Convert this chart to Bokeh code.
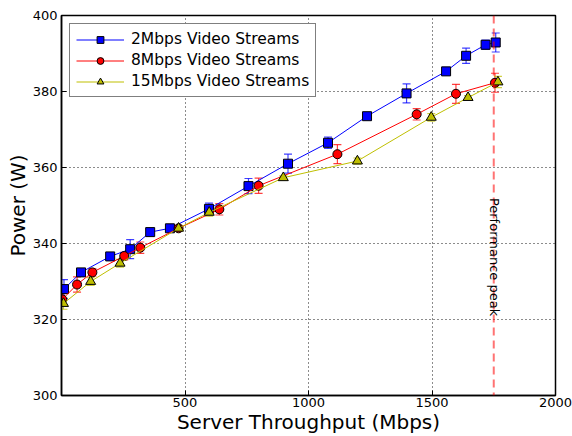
import math
from bokeh.plotting import figure
from bokeh.models import (ColumnDataSource, Whisker, Span, Label, Legend, LegendItem,
                          FixedTicker, Range1d)
from bokeh.embed import file_html
from bokeh.resources import INLINE

# ---------------- data ----------------
x_2mbps = [10, 79, 197, 278, 359, 439, 597, 757, 917, 1079, 1237, 1397, 1557, 1638, 1717, 1758]
y_2mbps = [328.0, 332.4, 336.6, 338.5, 343.0, 344.0, 349.1, 355.1, 361.0, 366.5, 373.5, 379.5, 385.3, 389.4, 392.3, 392.9]
e_2mbps = [2.5, 0.5, 0.5, 2.5, 1.0, 0.5, 1.5, 2.0, 2.5, 1.5, 0.5, 2.5, 1.0, 2.0, 1.2, 2.5]

x_8mbps = [3, 63, 125, 254, 319, 474, 639, 798, 1117, 1438, 1597, 1755]
y_8mbps = [325.3, 329.2, 332.4, 336.7, 338.9, 344.0, 349.0, 355.2, 363.5, 374.0, 379.4, 382.3]
e_8mbps = [1.5, 2.0, 1.0, 1.0, 1.5, 0.5, 1.5, 2.0, 2.5, 1.5, 2.5, 2.5]

x_15mbps = [8, 118, 237, 474, 598, 898, 1198, 1497, 1646, 1767]
y_15mbps = [324.2, 330.0, 334.8, 344.0, 348.2, 357.3, 361.7, 373.2, 378.4, 382.5]
e_15mbps = [1.5, 1.0, 1.0, 0.8, 1.0, 0.5, 0.8, 1.0, 0.5, 1.5]

series_names = ["2Mbps Video Streams", "8Mbps Video Streams", "15Mbps Video Streams"]
x_ticks = [500, 1000, 1500, 2000]
y_ticks = [300, 320, 340, 360, 380, 400]
x_limits = [0, 2000]
y_limits = [300, 400]
peak_x = 1750
peak_label = "Performance peak"
peak_label_y = 352

FONT = "DejaVu Sans"

p = figure(width=572, height=436,
           x_range=Range1d(*x_limits), y_range=Range1d(*y_limits),
           output_backend="svg", toolbar_location=None,
           min_border_left=61, min_border_right=17, min_border_top=15, min_border_bottom=40,
           background_fill_color="white", border_fill_color="white")

p.outline_line_color = "black"
p.outline_line_width = 1.5

# axes
for ax in [p.xaxis[0], p.yaxis[0]]:
    ax.major_label_text_font = FONT
    ax.major_label_text_font_size = "13px"
    ax.major_label_text_color = "black"
    ax.axis_label_text_font = FONT
    ax.axis_label_text_font_size = "20px"
    ax.axis_label_text_font_style = "normal"
    ax.axis_label_text_color = "black"
    ax.major_tick_in = 5
    ax.major_tick_out = 0
    ax.minor_tick_in = 0
    ax.minor_tick_out = 0
    ax.axis_line_color = "black"
    ax.axis_line_width = 1.5
    ax.major_tick_line_color = "black"

p.xaxis[0].ticker = FixedTicker(ticks=x_ticks)
p.yaxis[0].ticker = FixedTicker(ticks=y_ticks)
p.xaxis[0].axis_label = "Server Throughput (Mbps)"
p.yaxis[0].axis_label = "Power (W)"
p.xaxis[0].major_label_standoff = 2
p.xaxis[0].axis_label_standoff = 0
p.yaxis[0].major_label_standoff = 4
p.yaxis[0].axis_label_standoff = 0

# grid
p.xgrid.ticker = FixedTicker(ticks=[t for t in x_ticks if x_limits[0] < t < x_limits[1]])
p.ygrid.ticker = FixedTicker(ticks=[t for t in y_ticks if y_limits[0] < t < y_limits[1]])
for g in [p.xgrid[0], p.ygrid[0]]:
    g.grid_line_color = "black"
    g.grid_line_dash = "1 3"
    g.grid_line_width = 1
    g.grid_line_alpha = 0.9

# peak line
p.add_layout(Span(location=peak_x, dimension="height", line_color="#ff0000",
                  line_alpha=0.55, line_width=2, line_dash="8 5"))

series = [
    (x_2mbps, y_2mbps, e_2mbps, "#0000ff", "#0000ff", "square", 9),
    (x_8mbps, y_8mbps, e_8mbps, "#ff0000", "#ff0000", "circle", 9),
    (x_15mbps, y_15mbps, e_15mbps, "#bfbf00", "#bfbf00", "triangle", 10),
]

items = []
for (xs, ys, es, lc, fc, marker, size), name in zip(series, series_names):
    src = ColumnDataSource(dict(x=xs, y=ys,
                                lo=[y - e for y, e in zip(ys, es)],
                                hi=[y + e for y, e in zip(ys, es)]))
    w = Whisker(base="x", lower="lo", upper="hi", source=src, dimension="height",
                line_color=lc, line_alpha=0.75, line_width=1.2)
    for head in (w.upper_head, w.lower_head):
        head.size = 8
        head.line_color = lc
        head.line_alpha = 0.75
        head.line_width = 1.2
    p.add_layout(w)
    ln = p.line("x", "y", source=src, line_color=lc, line_width=1)
    sc = p.scatter("x", "y", source=src, marker=marker, size=size,
                   fill_color=fc, line_color="black", line_width=1)
    items.append(LegendItem(label=name, renderers=[ln, sc]))

legend = Legend(items=items, location="top_left")
legend.label_text_font = FONT
legend.label_text_font_size = "15.5px"
legend.label_text_color = "black"
legend.glyph_width = 48
legend.glyph_height = 17
legend.label_height = 17
legend.label_standoff = 7
legend.spacing = 3
legend.padding = 6
legend.margin = 8
legend.border_line_color = "black"
legend.border_line_width = 1.5
legend.background_fill_color = "white"
legend.background_fill_alpha = 1.0
p.add_layout(legend, "center")

p.add_layout(Label(x=peak_x, y=peak_label_y, text=peak_label, angle=-math.pi / 2,
                   text_align="left", text_baseline="alphabetic", x_offset=1,
                   text_font=FONT, text_font_size="13px", text_color="black"))

open("out.html", "w").write(file_html(p, INLINE))
